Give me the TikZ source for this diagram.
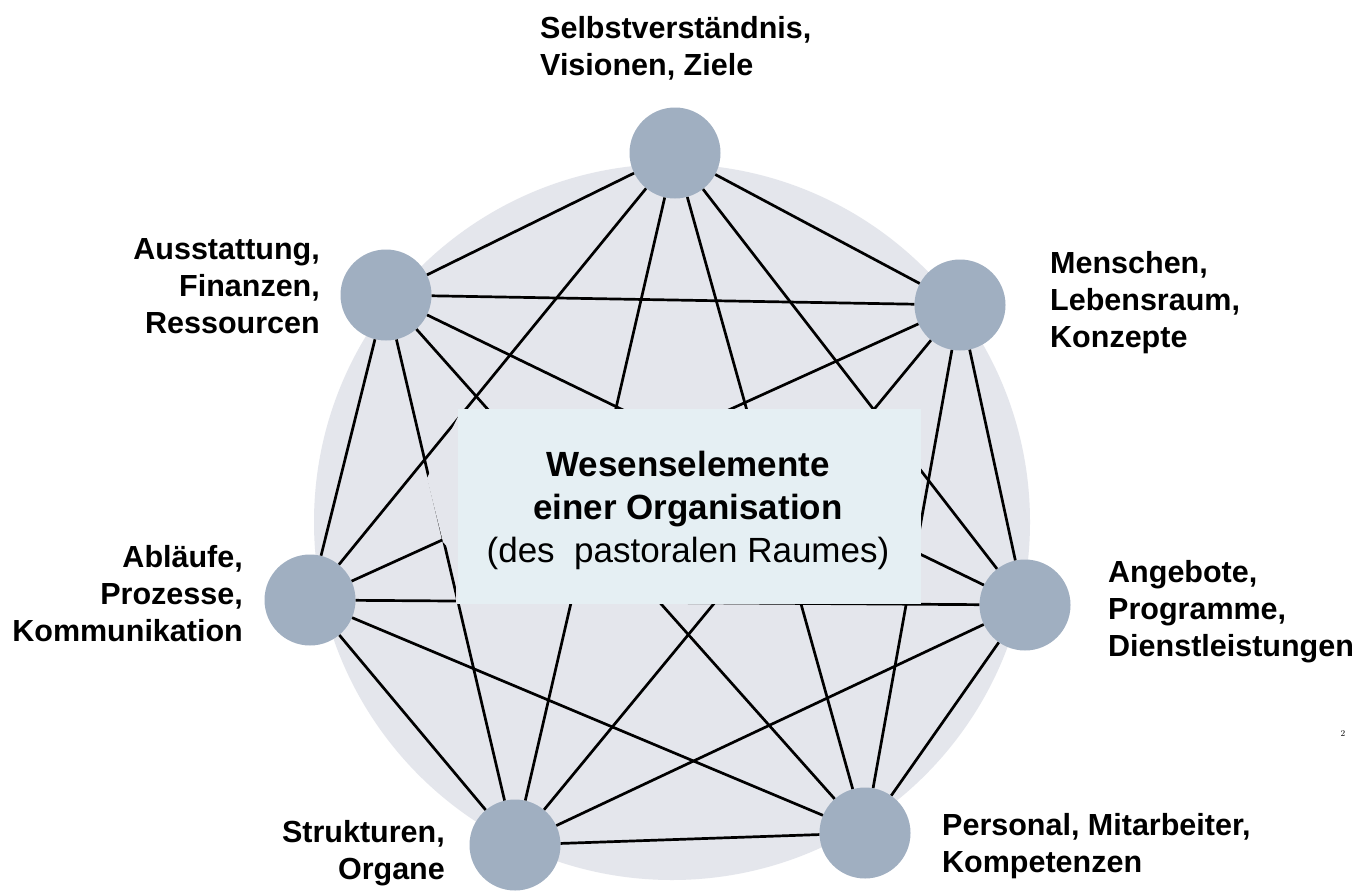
\documentclass[tikz,border=0pt]{standalone}
\usepackage{fontspec}
\setsansfont{Liberation Sans}
\definecolor{bgc}{RGB}{228,230,236}
\definecolor{boxc}{RGB}{229,239,243}
\definecolor{nodec}{RGB}{160,175,193}
\tikzset{
  elem/.style={circle, fill=nodec, minimum size=91pt, inner sep=0pt},
  edge/.style={line width=2.7pt, black},
  lab/.style={font=\sffamily\bfseries\fontsize{30.5}{37}\selectfont, inner sep=0pt, text=black},
  centertext/.style={font=\sffamily\fontsize{35}{43}\selectfont, inner sep=0pt, align=center}
}
\begin{document}
\begin{tikzpicture}[x=1pt,y=-1pt]
\useasboundingbox (0,0) rectangle (1359,891);
\fill[white] (0,0) rectangle (1359,891);
% background disc
\fill[bgc] (672,522) circle[radius=358];
% elements
\node[elem] (T) at (675,153) {};
\node[elem] (A) at (386,295) {};
\node[elem] (M) at (960,305) {};
\node[elem] (L) at (310,600) {};
\node[elem] (G) at (1025,605) {};
\node[elem] (S) at (515,845) {};
\node[elem] (P) at (865,833) {};
% connectors
\foreach \a/\b in {T/A,T/M,T/L,T/S,T/P,T/G,A/M,A/L,A/S,A/P,A/G,M/L,M/S,M/P,M/G,L/S,L/P,L/G,S/P,S/G,P/G}
  \draw[edge] (\a) -- (\b);
% central panel (with the gap in the lines left of it)
\fill[bgc] (462,409) -- (458,409) -- (458,604) -- (456,604) -- (456,557) -- (443,542) -- (427,478) -- cycle;
\fill[boxc] (458,409) rectangle (921,604);
\node[centertext] (C) at (688,510) {\textbf{Wesenselemente}\\\textbf{einer Organisation}\\(des\ \ pastoralen Raumes)};
% labels
\node[lab, align=left, anchor=west] (tT) at (540,48) {Selbstverständnis,\\Visionen, Ziele};
\node[lab, align=right, anchor=east] (tA) at (320,286) {Ausstattung,\\Finanzen,\\Ressourcen};
\node[lab, align=left, anchor=west] (tM) at (1050,303) {Menschen,\\Lebensraum,\\Konzepte};
\node[lab, align=right, anchor=east] (tL) at (243,594) {Abläufe,\\Prozesse,\\Kommunikation};
\node[lab, align=left, anchor=west] (tG) at (1108,612) {Angebote,\\Programme,\\Dienstleistungen};
\node[lab, align=right, anchor=east] (tS) at (445,853) {Strukturen,\\Organe};
\node[lab, align=left, anchor=west] (tP) at (942,846) {Personal, Mitarbeiter,\\Kompetenzen};
\node[font=\rmfamily\fontsize{9}{10}\selectfont, inner sep=0pt] (pg) at (1343,733) {2};
\end{tikzpicture}
\end{document}
